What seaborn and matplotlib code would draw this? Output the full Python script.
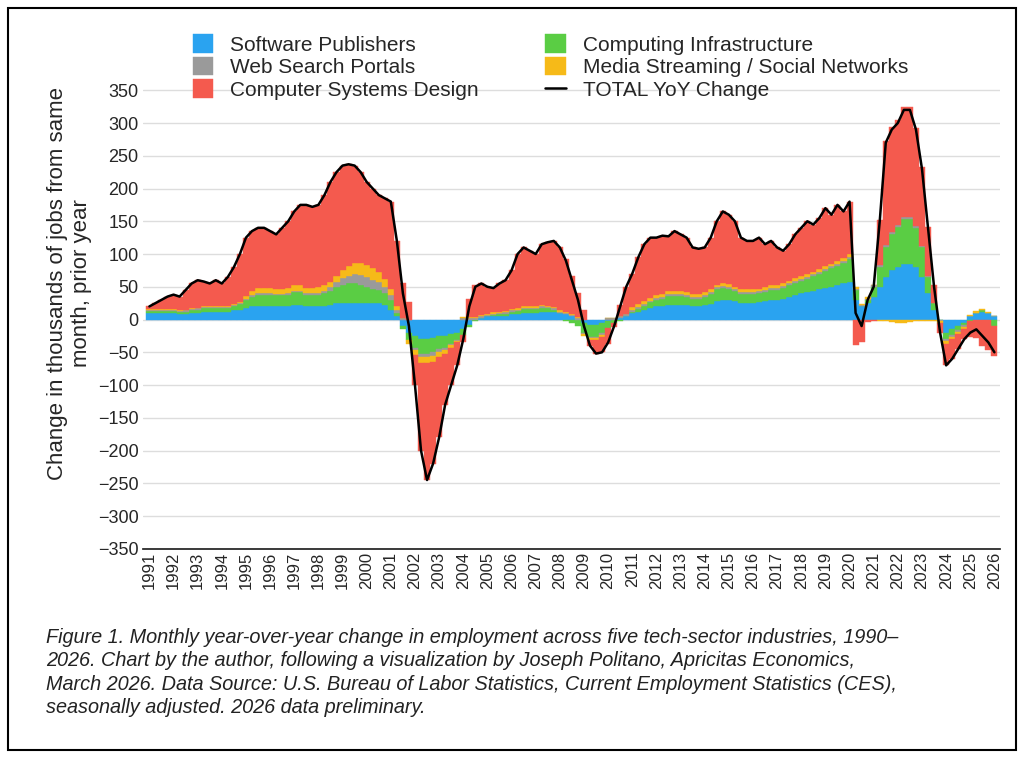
import matplotlib
matplotlib.use("Agg")
import matplotlib.pyplot as plt
import seaborn as sns
import numpy as np
import pandas as pd

# quarterly values, 1991Q1 .. 2026Q1 (thousands of jobs, YoY change)
years = list(range(1991, 2027))

total = [20, 25, 30, 35, 38, 35, 45, 55, 60, 58, 55, 60, 55, 65, 80, 100,
         125, 135, 140, 140, 135, 130, 140, 150, 165, 175, 175, 172, 175, 190, 210, 225,
         235, 237, 235, 225, 210, 200, 190, 185, 180, 120, 40, -10, -100, -200, -245, -220,
         -180, -130, -100, -70, -30, 20, 50, 55, 50, 48, 55, 60, 75, 100, 110, 105,
         100, 115, 118, 120, 110, 90, 60, 30, -10, -40, -52, -50, -35, -10, 20, 50,
         70, 95, 115, 125, 125, 128, 127, 135, 130, 125, 110, 108, 110, 125, 150, 165,
         160, 150, 125, 120, 120, 125, 115, 120, 110, 105, 115, 130, 140, 150, 145, 155,
         170, 160, 175, 165, 180, 10, -10, 30, 50, 150, 270, 290, 300, 320, 320, 290,
         230, 140, 50, -20, -70, -60, -45, -30, -20, -15, -25, -35, -50]

software = [10, 10, 10, 10, 10, 8, 8, 10, 10, 12, 12, 12, 12, 12, 14, 15,
            18, 20, 20, 20, 20, 20, 20, 20, 22, 22, 20, 20, 20, 20, 22, 25,
            25, 25, 25, 25, 25, 25, 25, 22, 15, 5, -10, -20, -25, -30, -30, -28,
            -25, -25, -22, -20, -15, -8, 0, 3, 5, 5, 5, 6, 8, 8, 10, 10,
            10, 12, 12, 12, 10, 8, 5, 0, -5, -8, -8, -6, -3, 0, 3, 6,
            10, 12, 15, 18, 20, 20, 22, 22, 22, 22, 20, 20, 22, 24, 28, 30,
            30, 28, 25, 25, 25, 26, 28, 30, 30, 32, 35, 38, 40, 42, 44, 46,
            48, 50, 52, 55, 58, 30, 20, 25, 35, 50, 65, 75, 80, 85, 85, 80,
            65, 40, 15, 0, -20, -15, -10, -5, 5, 10, 12, 10, 5]

web_search = [2, 2, 2, 2, 2, 2, 2, 2, 2, 2, 2, 2, 2, 2, 2, 2,
              2, 2, 2, 2, 2, 2, 2, 2, 2, 2, 2, 2, 3, 4, 6, 8,
              10, 12, 14, 15, 15, 14, 12, 10, 8, 5, 2, 0, -3, -5, -5, -5,
              -4, -3, -2, -1, 2, 2, 2, 2, 2, 2, 2, 2, 2, 2, 2, 2,
              2, 2, 2, 2, 2, 2, 2, 2, -2, -2, -2, -2, 2, 2, 2, 2,
              3, 3, 3, 3, 3, 3, 3, 3, 3, 3, 3, 3, 3, 3, 3, 3,
              3, 3, 3, 3, 3, 3, 3, 3, 3, 3, 3, 3, 3, 3, 3, 3,
              3, 3, 3, 3, 3, 2, 2, 2, 3, 3, 3, 3, 3, 3, 3, 3,
              2, 1, 0, -2, -3, -3, -3, -3, 0, 0, 0, 0, 0]

computer_systems = [4, 9, 14, 19, 22, 21, 30, 38, 42, 38, 35, 40, 35, 45, 57, 74,
                    89, 92, 92, 92, 87, 83, 93, 102, 113, 123, 127, 124, 126, 138, 152, 159,
                    160, 155, 149, 139, 127, 122, 118, 123, 134, 100, 53, 27, -46, -133, -178, -155,
                    -123, -78, -57, -35, -11, 28, 48, 48, 41, 37, 43, 47, 59, 83, 90, 85,
                    80, 93, 97, 101, 96, 81, 57, 36, 15, -9, -21, -24, -24, -7, 17, 42,
                    51, 72, 87, 92, 88, 89, 84, 92, 87, 83, 71, 69, 68, 79, 97, 110,
                    106, 100, 79, 74, 74, 78, 66, 68, 58, 50, 56, 67, 74, 81, 72, 78,
                    89, 75, 86, 71, 80, -39, -34, -4, -3, 69, 160, 161, 160, 169, 168, 150,
                    121, 76, 27, -15, -32, -30, -23, -16, -25, -28, -41, -47, -45]

computing_infra = [3, 3, 3, 3, 3, 3, 4, 4, 5, 5, 5, 5, 5, 5, 6, 8,
                   12, 15, 18, 18, 18, 17, 17, 18, 20, 20, 18, 18, 18, 20, 22, 25,
                   28, 30, 30, 28, 25, 22, 20, 18, 15, 5, -5, -12, -18, -22, -22, -22,
                   -20, -18, -15, -12, -8, -4, -2, 0, 0, 2, 3, 3, 4, 5, 6, 6,
                   6, 6, 5, 3, 0, -3, -6, -10, -15, -18, -18, -15, -10, -5, -2, 0,
                   2, 4, 6, 8, 10, 12, 14, 14, 14, 13, 12, 12, 13, 15, 18, 18,
                   17, 15, 14, 14, 14, 14, 14, 15, 15, 16, 17, 18, 19, 20, 22, 24,
                   26, 28, 30, 32, 35, 15, 0, 5, 15, 30, 45, 55, 62, 68, 68, 60,
                   45, 25, 10, 0, -10, -8, -6, -4, -2, 0, 2, 0, -10]

media_streaming = [1, 1, 1, 1, 1, 1, 1, 1, 1, 1, 1, 1, 1, 1, 1, 1,
                   4, 6, 8, 8, 8, 8, 8, 8, 8, 8, 8, 8, 8, 8, 8, 8,
                   12, 15, 17, 18, 18, 17, 15, 12, 8, 5, 0, -5, -8, -10, -10, -10,
                   -8, -6, -4, -2, 2, 2, 2, 2, 2, 2, 2, 2, 2, 2, 2, 2,
                   2, 2, 2, 2, 2, 2, 2, 2, -3, -3, -3, -3, 0, 0, 0, 0,
                   4, 4, 4, 4, 4, 4, 4, 4, 4, 4, 4, 4, 4, 4, 4, 4,
                   4, 4, 4, 4, 4, 4, 4, 4, 4, 4, 4, 4, 4, 4, 4, 4,
                   4, 4, 4, 4, 4, 2, 2, 2, 0, -2, -3, -4, -5, -5, -4, -3,
                   -3, -2, -2, -3, -5, -4, -3, -2, 2, 3, 2, 2, 0]

series = [
    ("Software Publishers", software, "#2AA3F0"),
    ("Web Search Portals", web_search, "#9A9A9A"),
    ("Computer Systems Design", computer_systems, "#F45A4E"),
    ("Computing Infrastructure", computing_infra, "#5ACD44"),
    ("Media Streaming / Social Networks", media_streaming, "#F6BA18"),
]
# drawing order of the stack from the zero line outward
stack_order = [0, 3, 1, 4, 2]

sns.set_theme(style="white")
plt.rcParams["font.family"] = ["Liberation Sans", "DejaVu Sans"]

fig = plt.figure(figsize=(10.24, 7.58), dpi=100)
ax = fig.add_axes([0.14, 0.276, 0.837, 0.70])

x = np.arange(len(total))
pos_bottom = np.zeros(len(total))
neg_bottom = np.zeros(len(total))
handles = {}
for i in stack_order:
    name, vals, color = series[i]
    v = np.array(vals, dtype=float)
    bottom = np.where(v >= 0, pos_bottom, neg_bottom)
    h = ax.bar(x, v, bottom=bottom, width=1.0, color=color, edgecolor=color,
               linewidth=0.3, label=name)
    handles[name] = h
    pos_bottom += np.where(v >= 0, v, 0)
    neg_bottom += np.where(v < 0, v, 0)

df = pd.DataFrame({"x": x, "total": total})
sns.lineplot(data=df, x="x", y="total", color="black", linewidth=1.8, ax=ax,
             label="TOTAL YoY Change")
line_handle = ax.get_lines()[-1]

ax.set_xlim(-1, len(total))
ax.set_ylim(-350, 460)
ax.set_yticks(range(-350, 351, 50))
ax.tick_params(axis="y", labelsize=13, length=0)
ax.set_xticks([(y - 1991) * 4 for y in years])
ax.set_xticklabels([str(y) for y in years])
ax.tick_params(axis="x", length=0, pad=2, labelrotation=90, labelsize=12)
ax.yaxis.grid(True, color="#DDDDDD", linewidth=1)
ax.set_axisbelow(True)
for s in ["top", "right", "left"]:
    ax.spines[s].set_visible(False)
ax.spines["bottom"].set_color("#222222")
ax.spines["bottom"].set_position(("data", -350))
ax.set_xlabel("")
ax.set_ylabel("Change in thousands of jobs from same\nmonth, prior year", fontsize=16)

order = ["Software Publishers", "Web Search Portals", "Computer Systems Design",
         "Computing Infrastructure", "Media Streaming / Social Networks"]
leg_handles = [handles[n] for n in order] + [line_handle]
leg_labels = order + ["TOTAL YoY Change"]
ax.legend(leg_handles, leg_labels, ncol=2, loc="upper center", bbox_to_anchor=(0.475, 1.005),
          frameon=False, fontsize=15, handlelength=1.0, handleheight=1.0,
          columnspacing=3.2, labelspacing=0.1)

caption = ("Figure 1. Monthly year-over-year change in employment across five tech-sector industries, 1990–\n"
           "2026. Chart by the author, following a visualization by Joseph Politano, Apricitas Economics,\n"
           "March 2026. Data Source: U.S. Bureau of Labor Statistics, Current Employment Statistics (CES),\n"
           "seasonally adjusted. 2026 data preliminary.")
fig.text(0.045, 0.172, caption, fontsize=14.3, style="italic", color="#222222",
         va="top", linespacing=1.3)

fig.patches.append(plt.Rectangle((0.008, 0.01), 0.984, 0.98, transform=fig.transFigure,
                                 fill=False, edgecolor="black", linewidth=1.5))

fig.savefig("out.png", dpi=100)
